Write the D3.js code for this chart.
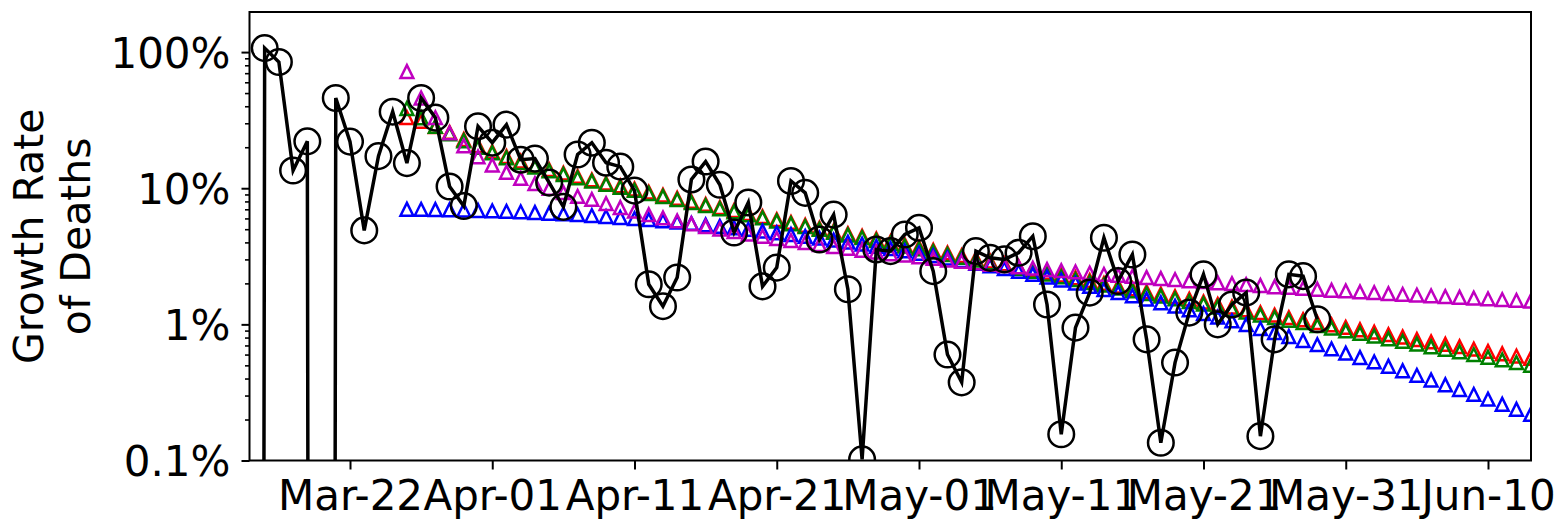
<!DOCTYPE html>
<html><head><meta charset="utf-8">
<script src="https://cdn.jsdelivr.net/npm/d3@7"></script>
<style>
html,body{margin:0;padding:0;background:#fff;}
svg{display:block;font-family:"DejaVu Sans",sans-serif;}
</style>
</head><body>
<svg id="chart" width="1568" height="524"></svg>
<script>
// ---------------- data ----------------
const blackStart = "2020-03-15";
const blackValues = [
  0, 107, 84.6, 13.5, 22.1, 0, 46, 22, 4.9, 17.2, 36.5, 15.3, 46, 33, 10.3, 7.4, 28.5,
  21.6, 29.3, 16.2, 16.5, 11, 7.3, 17.7, 21.6, 15.4, 14.4, 9.6, 1.97, 1.36, 2.21, 11.6,
  15.7, 10.6, 4.73, 7.85, 1.9, 2.61, 11.3, 9.25, 4.2, 6.4, 1.81, 0.102, 3.55, 3.45, 4.57,
  5.12, 2.46, 0.60, 0.375, 3.45, 3.08, 3.0, 3.36, 4.44, 1.40, 0.156, 0.946, 1.71, 4.33,
  2.08, 3.26, 0.776, 0.135, 0.524, 1.22, 2.33, 1.0, 1.40, 1.71, 0.151, 0.776, 2.33, 2.26, 1.09
];
const modelStart = "2020-03-26";
const magentaValues = [
  72, 46, 33, 25.5, 20.5, 17, 14.8, 13.1, 11.8, 10.8, 10.0, 9.3, 8.7,
  8.27, 7.70, 7.21, 6.78, 6.40, 6.06, 5.76, 5.48, 5.23, 5.00,
  4.80, 4.61, 4.43, 4.27, 4.12, 3.98, 3.85, 3.73, 3.61, 3.50,
  3.40, 3.30, 3.22, 3.13, 3.05, 2.97, 2.90, 2.83, 2.76, 2.70,
  2.64, 2.59, 2.53, 2.48, 2.43, 2.38, 2.33, 2.29, 2.25, 2.21,
  2.17, 2.13, 2.09, 2.06, 2.02, 1.99, 1.96, 1.93, 1.89, 1.87,
  1.84, 1.81, 1.78, 1.76, 1.73, 1.71, 1.68, 1.66, 1.64, 1.62,
  1.60, 1.58, 1.56, 1.54, 1.52, 1.50, 1.48
];
const redValues = [
  33, 31, 28.3, 25.7, 22.8, 20.5, 18.6, 17.1, 15.8, 14.6,
  13.7, 12.9, 12.2, 11.5, 10.9, 10.4, 9.86, 9.36, 8.89, 8.44,
  8.01, 7.61, 7.22, 6.86, 6.52, 6.19, 5.87, 5.61, 5.34, 5.09,
  4.86, 4.64, 4.44, 4.24, 4.04, 3.85, 3.68, 3.51, 3.35, 3.20,
  3.04, 2.91, 2.78, 2.65, 2.52, 2.41, 2.30, 2.20, 2.10, 2.00,
  1.91, 1.82, 1.74, 1.67, 1.60, 1.53, 1.46, 1.40, 1.34, 1.28,
  1.22, 1.17, 1.12, 1.08, 1.03, 0.992, 0.951, 0.913, 0.876, 0.840,
  0.807, 0.774, 0.743, 0.714, 0.686, 0.658, 0.633, 0.608, 0.584, 0.562
];
const greenValues = [
  38.5, 32.9, 28.5, 25.1, 22.3, 20.0, 18.2, 16.7, 15.4, 14.3,
  13.4, 12.6, 11.9, 11.26, 10.69, 10.15, 9.64, 9.15, 8.69, 8.25,
  7.83, 7.44, 7.06, 6.71, 6.37, 6.05, 5.74, 5.48, 5.22, 4.98,
  4.75, 4.53, 4.33, 4.13, 3.94, 3.75, 3.58, 3.42, 3.26, 3.11,
  2.96, 2.83, 2.70, 2.57, 2.45, 2.34, 2.23, 2.13, 2.03, 1.94,
  1.85, 1.76, 1.68, 1.61, 1.54, 1.47, 1.41, 1.34, 1.29, 1.23,
  1.17, 1.12, 1.07, 1.03, 0.98, 0.939, 0.897, 0.858, 0.820, 0.784,
  0.750, 0.717, 0.685, 0.655, 0.627, 0.599, 0.573, 0.548, 0.524, 0.501
];
const blueValues = [
  7.00, 6.99, 6.97, 6.94, 6.91, 6.86, 6.82, 6.76, 6.70, 6.63,
  6.55, 6.47, 6.39, 6.29, 6.19, 6.09, 5.98, 5.87, 5.75, 5.63,
  5.51, 5.38, 5.25, 5.12, 4.98, 4.85, 4.71, 4.57, 4.43, 4.30,
  4.16, 4.02, 3.88, 3.74, 3.60, 3.46, 3.33, 3.20, 3.07, 2.94,
  2.81, 2.69, 2.57, 2.45, 2.33, 2.22, 2.11, 2.01, 1.90, 1.80,
  1.71, 1.62, 1.53, 1.44, 1.36, 1.28, 1.20, 1.13, 1.06, 0.994,
  0.931, 0.871, 0.814, 0.760, 0.709, 0.660, 0.614, 0.571, 0.530, 0.492,
  0.456, 0.422, 0.390, 0.360, 0.332, 0.306, 0.282, 0.259, 0.238, 0.218
];
const xTickDates = ["2020-03-22","2020-04-01","2020-04-11","2020-04-21","2020-05-01","2020-05-11","2020-05-21","2020-05-31","2020-06-10"];
const xTickLabels = ["Mar-22","Apr-01","Apr-11","Apr-21","May-01","May-11","May-21","May-31","Jun-10"];
const yTickValues = [0.1, 1, 10, 100];
const yTickLabels = ["0.1%","1%","10%","100%"];
const yMinorMultipliers = [2,3,4,5,6,7,8,9];
const xDomainDates = ["2020-03-14T22:26:00Z","2020-06-13T00:33:00Z"];
const yDomainValues = [0.1, 197];
const yLabelLines = ["Growth Rate","of Deaths"];

// ---------------- layout ----------------
const plot = {left: 249.5, right: 1531, top: 12, bottom: 460.5};
const svg = d3.select("#chart");
const parse = s => new Date(s.length === 10 ? s + "T00:00:00Z" : s);

const x = d3.scaleUtc().domain(xDomainDates.map(parse)).range([plot.left, plot.right]);
const y = d3.scaleLog().domain(yDomainValues).range([plot.bottom, plot.top]);

const series = (start, vals) => vals.map((v, i) => ({date: d3.utcDay.offset(parse(start), i), v}));
const blackData = series(blackStart, blackValues);

svg.append("defs").append("clipPath").attr("id","plotclip")
  .append("rect").attr("x", plot.left).attr("y", plot.top)
  .attr("width", plot.right - plot.left).attr("height", plot.bottom - plot.top);

const g = svg.append("g").attr("clip-path","url(#plotclip)");

// triangle series
const tri = s => `M0,${-s}L${-s},${s}L${s},${s}Z`;
const modelSeries = [
  {vals: redValues, color: "#ff0000"},
  {vals: greenValues, color: "#008000"},
  {vals: blueValues, color: "#0000ff"},
  {vals: magentaValues, color: "#bf00bf"}
];
modelSeries.forEach(ms => {
  g.append("g").selectAll("path").data(series(modelStart, ms.vals)).join("path")
    .attr("d", tri(6.4))
    .attr("transform", d => `translate(${x(d.date)},${y(d.v)})`)
    .attr("fill","none").attr("stroke", ms.color).attr("stroke-width", 2.5)
    .attr("stroke-linejoin","miter");
});

// black line (zeros clipped far below the axis, as on a log axis)
const line = d3.line().x(d => x(d.date)).y(d => y(d.v > 0 ? d.v : 1e-60));
g.append("path").datum(blackData).attr("d", line)
  .attr("fill","none").attr("stroke","#000").attr("stroke-width", 3.5).attr("stroke-linejoin","miter");
g.append("g").selectAll("circle").data(blackData.filter(d => d.v > 0)).join("circle")
  .attr("cx", d => x(d.date)).attr("cy", d => y(d.v)).attr("r", 12.8)
  .attr("fill","none").attr("stroke","#000").attr("stroke-width", 2.5);

// axes
const yMinor = [];
[0.1, 1, 10, 100].forEach(dec => yMinorMultipliers.forEach(m => {
  const v = dec * m; if (v > yDomainValues[0] && v < yDomainValues[1]) yMinor.push(v);
}));
svg.append("g").attr("transform", `translate(${plot.left},0)`)
  .call(d3.axisLeft(y).tickValues(yMinor).tickFormat("").tickSizeInner(4.5).tickSizeOuter(0))
  .call(a => a.select(".domain").remove())
  .call(a => a.selectAll("line").attr("stroke-width", 1.6));

svg.append("g").attr("transform", `translate(${plot.left},0)`)
  .call(d3.axisLeft(y).tickValues(yTickValues).tickFormat((d,i) => yTickLabels[i])
        .tickSizeInner(8).tickSizeOuter(0).tickPadding(11))
  .call(a => a.select(".domain").remove())
  .call(a => a.selectAll("line").attr("stroke-width", 2))
  .call(a => a.selectAll("text").attr("font-size", 42).attr("font-family","DejaVu Sans").attr("fill","#000").attr("dy","0.36em"));

svg.append("g").attr("transform", `translate(0,${plot.bottom})`)
  .call(d3.axisBottom(x).tickValues(xTickDates.map(parse)).tickFormat((d,i) => xTickLabels[i])
        .tickSizeInner(9).tickSizeOuter(0).tickPadding(10.5))
  .call(a => a.select(".domain").remove())
  .call(a => a.selectAll("line").attr("stroke-width", 2))
  .call(a => a.selectAll("text").attr("font-size", 42).attr("font-family","DejaVu Sans").attr("fill","#000"));

// frame
svg.append("rect").attr("x", plot.left).attr("y", plot.top)
  .attr("width", plot.right - plot.left).attr("height", plot.bottom - plot.top)
  .attr("fill","none").attr("stroke","#000").attr("stroke-width", 2);

// y label
const cy = (plot.top + plot.bottom) / 2;
const yl = svg.append("text").attr("transform", `translate(0,${cy}) rotate(-90)`)
  .attr("text-anchor","middle").attr("font-size", 41).attr("fill","#000");
yl.selectAll("tspan").data(yLabelLines).join("tspan")
  .attr("x", 0).attr("y", (d,i) => 43 + i * 47).text(d => d);
</script>
</body></html>
